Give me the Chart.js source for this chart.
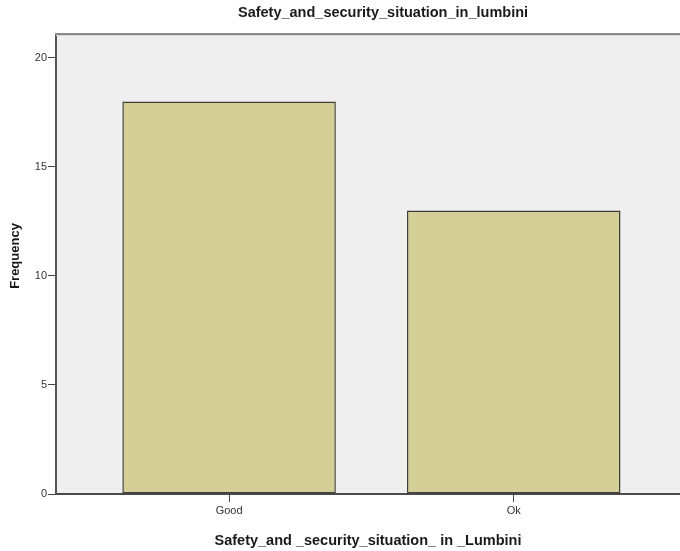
<!DOCTYPE html>
<html>
<head>
<meta charset="utf-8">
<script src="https://cdn.jsdelivr.net/npm/chart.js@4/dist/chart.umd.min.js"></script>
<style>
  html, body { margin: 0; padding: 0; background: #ffffff; overflow: hidden; }
  canvas { display: block; }
</style>
</head>
<body>
<canvas id="c" width="680" height="551"></canvas>
<script>
// ---- data ----
const categories = ["Good", "Ok"];
const frequencies = [18, 13];
const yTickValues = [0, 5, 10, 15, 20];
const chartTitle = "Safety_and_security_situation_in_lumbini";
const xAxisTitle = "Safety_and _security_situation_ in _Lumbini";
const yAxisTitle = "Frequency";

const points = categories.map((c, i) => ({ x: i, y: frequencies[i] }));

const frame = {
  id: 'frame',
  beforeDraw(chart) {
    const { ctx, chartArea: a } = chart;
    ctx.save();
    ctx.fillStyle = '#efefef';
    ctx.fillRect(a.left, a.top, a.right - a.left, a.bottom - a.top);
    ctx.restore();
  },
  afterDraw(chart) {
    const { ctx, chartArea: a } = chart;
    ctx.save();
    ctx.strokeStyle = '#8a8a8a';
    ctx.lineWidth = 2;
    ctx.beginPath();
    ctx.moveTo(a.left - 1, a.top);
    ctx.lineTo(a.right, a.top);
    ctx.stroke();
    ctx.strokeStyle = '#d8d8d8';
    ctx.lineWidth = 1;
    ctx.beginPath();
    ctx.moveTo(a.left, a.top + 1.5);
    ctx.lineTo(a.right, a.top + 1.5);
    ctx.stroke();
    // main title
    ctx.fillStyle = '#1a1a1a';
    ctx.font = 'bold 14.5px "Liberation Sans", Arial, sans-serif';
    ctx.textAlign = 'center';
    ctx.textBaseline = 'middle';
    ctx.fillText(chartTitle, 383, 12.5);
    // y title
    ctx.translate(15, 256);
    ctx.rotate(-Math.PI / 2);
    ctx.font = 'bold 13px "Liberation Sans", Arial, sans-serif';
    ctx.fillText(yAxisTitle, 0, 0);
    ctx.restore();
  }
};

new Chart(document.getElementById('c'), {
  type: 'bar',
  data: {
    datasets: [{
      data: points,
      backgroundColor: '#d3cf97',
      borderColor: '#3f3f35',
      borderWidth: 1.5,
      borderSkipped: false,
      categoryPercentage: 0.75,
      barPercentage: 1
    }]
  },
  options: {
    responsive: false,
    animation: false,
    layout: { padding: { top: 34, right: 0, left: 0, bottom: 0 } },
    plugins: { legend: { display: false }, tooltip: { enabled: false }, title: { display: false } },
    scales: {
      x: {
        type: 'linear',
        bounds: 'data',
        offset: false,
        min: -0.608,
        max: 1.584,
        afterBuildTicks(scale) { scale.ticks = categories.map((c, i) => ({ value: i })); },
        afterFit(scale) { scale.height = 57; },
        ticks: {
          callback: (v) => categories[v],
          color: '#333333',
          font: { family: '"Liberation Sans", Arial, sans-serif', size: 11 },
          padding: 2,
          maxRotation: 0
        },
        grid: { display: true, offset: false, drawOnChartArea: false, drawTicks: true, tickLength: 8, color: '#444444', lineWidth: 1 },
        border: { display: true, color: '#4a4a4a', width: 2 },
        title: {
          display: true,
          text: xAxisTitle,
          color: '#1a1a1a',
          font: { family: '"Liberation Sans", Arial, sans-serif', size: 14.5, weight: 'bold' },
          padding: { top: 0, bottom: 1 }
        }
      },
      y: {
        type: 'linear',
        bounds: 'data',
        min: 0,
        max: 21.1,
        afterBuildTicks(scale) { scale.ticks = yTickValues.map(v => ({ value: v })); },
        afterFit(scale) { scale.width = 56; },
        ticks: {
          color: '#333333',
          font: { family: '"Liberation Sans", Arial, sans-serif', size: 11 },
          padding: 1
        },
        grid: { display: true, drawOnChartArea: false, drawTicks: true, tickLength: 8, color: '#444444', lineWidth: 1 },
        border: { display: true, color: '#555555', width: 2 },
        title: { display: false }
      }
    }
  },
  plugins: [frame]
});
</script>
</body>
</html>
